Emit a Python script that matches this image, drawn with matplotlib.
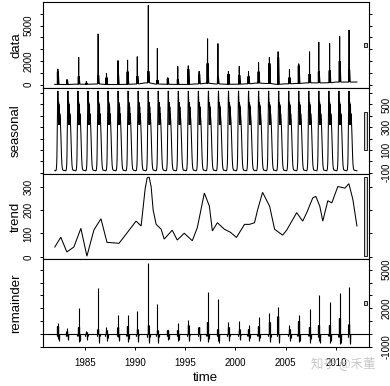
import numpy as np
import matplotlib
matplotlib.use("Agg")
import matplotlib.pyplot as plt
from matplotlib.patches import Rectangle

plt.rcParams['font.family'] = ['Liberation Sans', 'DejaVu Sans']

# ---------------- data ----------------
years = list(range(1982, 2012))
# position of the main spike within each year (fraction of year)
peak_frac = [0.30, 0.22, 0.38, 0.15, 0.32, 0.15, 0.30, 0.25, 0.22, 0.32,
             0.22, 0.25, 0.25, 0.30, 0.38, 0.22, 0.25, 0.30, 0.38, 0.30,
             0.30, 0.38, 0.25, 0.38, 0.30, 0.38, 0.30, 0.38, 0.38, 0.32]
data_peak = [1340, 450, 2330, 300, 4310, 950, 2050, 2100, 2380, 6740,
             3070, 600, 1550, 1610, 1140, 3900, 3490, 1140, 1550, 1140,
             1880, 2330, 2800, 1280, 1780, 2800, 3620, 3490, 4090, 4640]
data_shoulder = [1100, 350, 700, 150, 800, 600, 900, 1100, 730, 1140,
                 400, 500, 450, 1300, 900, 1800, 700, 900, 800, 700,
                 1100, 1800, 2300, 600, 1600, 900, 1100, 1200, 2000, 1300]
data_base = [20, 10, 40, 30, 60, 10, 10, 30, 60, 150,
             50, 30, 20, 20, 60, 120, 60, 30, 40, 70,
             130, 100, 30, 70, 100, 150, 150, 160, 220, 220]

# one year of the (periodic) seasonal component, weekly values
seasonal_week = [-82, -84, -85, -85, -85, -84, -82, -78,
                 -68, -50, -20, 40, 150, 300,
                 450, 570, 620,
                 560, 500, 470,
                 520, 320, 500, 320, 480, 330,
                 420, 400, 380, 350, 310, 260, 200, 140,
                 90, 40, 0, -30, -50, -62, -70, -75, -78, -80,
                 -80, -81, -81, -81, -81, -82, -82, -82]
season_start = 1982.0
n_weeks = 30 * 52 + 6

# trend component, read at irregular times
trend_time = [1982.0, 1982.6, 1983.2, 1983.9, 1984.6, 1985.2, 1985.9, 1986.6,
              1987.2, 1988.4, 1989.1, 1990.1, 1990.6, 1991.0, 1991.2, 1991.4,
              1991.6, 1991.8, 1992.1, 1992.6, 1992.9, 1993.7, 1994.2, 1994.9,
              1995.7, 1996.2, 1996.9, 1997.4, 1997.7, 1998.2, 1998.9, 1999.5,
              2000.1, 2000.9, 2001.4, 2001.9, 2002.2, 2002.7, 2003.4, 2003.9,
              2004.7, 2005.1, 2006.1, 2006.7, 2007.1, 2007.7, 2008.0, 2008.4,
              2008.7, 2009.2, 2009.6, 2010.2, 2010.9, 2011.3, 2011.7, 2012.1]
trend_val = [42, 84, 21, 42, 122, 3, 115, 163,
             62, 58, 97, 153, 132, 290, 338, 341,
             300, 200, 139, 118, 76, 114, 72, 101,
             69, 125, 273, 217, 111, 146, 118, 105,
             83, 139, 139, 146, 200, 276, 217, 118,
             93, 114, 189, 153, 189, 252, 259, 217,
             153, 240, 231, 301, 294, 313, 245, 132]

# remainder: main spike, positive cluster level, negative dip level per year
rem_peak = [840, 450, 2040, 200, 3580, 520, 1490, 1490, 1750, 5560,
            2350, 260, 840, 1100, 500, 3300, 2700, 900, 1000, 700,
            1300, 1600, 2090, 650, 1430, 1960, 3000, 2480, 3190, 3660]
rem_pos = [600, 250, 500, 150, 400, 300, 500, 600, 400, 700,
           300, 300, 300, 700, 500, 900, 400, 500, 400, 400,
           600, 900, 1400, 400, 1000, 500, 700, 700, 1200, 800]
rem_neg = [-550, -500, -650, -450, -700, -550, -600, -650, -650, -750,
           -700, -500, -550, -600, -550, -650, -700, -550, -500, -550,
           -600, -650, -700, -550, -650, -700, -750, -700, -800, -800]
dip_shape = [0.4, 0.8, 1.0, 0.85, 0.6, 0.35, 0.2]

# axis ticks and labels
x_ticks = [1985, 1990, 1995, 2000, 2005, 2010]
data_ticks = [0, 1000, 2000, 3000, 4000, 5000, 6000]
data_labels = [0, 2000, 5000]
seas_ticks = [-100, 0, 100, 200, 300, 400, 500, 600]
seas_labels = [-100, 100, 300, 500]
trend_ticks = [0, 100, 200, 300]
trend_labels = [0, 100, 200, 300]
rem_ticks = [-1000, 0, 1000, 2000, 3000, 4000, 5000]
rem_labels = [-1000, 2000, 5000]
panel_names = ["data", "seasonal", "trend", "remainder"]

# ---------------- build series ----------------
# data polyline
d_t, d_v = [], []
for y, pf, pk, sh, bs in zip(years, peak_frac, data_peak, data_shoulder, data_base):
    offs = [-0.12, -0.05, -0.04, -0.02, -0.01, 0.0, 0.01, 0.03, 0.05, 0.12]
    vals = [bs, bs, sh, bs, sh, pk, sh, bs, sh, bs]
    d_t.append(y)
    d_v.append(bs)
    for o, v in zip(offs, vals):
        d_t.append(y + pf + o)
        d_v.append(v)
d_t.append(2012.1)
d_v.append(data_base[-1])

# seasonal
s_t = season_start + np.arange(n_weeks) / 52.0
s_v = np.resize(np.array(seasonal_week, float), n_weeks)

# remainder vertical lines
r_t, r_v = [], []
for y, pf, pk, ps, ng in zip(years, peak_frac, rem_peak, rem_pos, rem_neg):
    r_t.append(y + pf); r_v.append(pk)
    for o in [-0.07, -0.05, -0.03, -0.015, 0.015, 0.03]:
        r_t.append(y + pf + o); r_v.append(ps)
    for k, w in enumerate(dip_shape):
        r_t.append(y + pf + 0.045 + 0.015 * k); r_v.append(ng * w)
    for o in [-0.12, -0.10]:
        r_t.append(y + pf + o); r_v.append(ng * 0.3)

series = [
    (np.array(d_t), np.array(d_v)),
    (s_t, s_v),
    (np.array(trend_time, float), np.array(trend_val, float)),
    (np.array(r_t), np.array(r_v)),
]
ticks = [data_ticks, seas_ticks, trend_ticks, rem_ticks]
labels = [data_labels, seas_labels, trend_labels, rem_labels]

# ---------------- figure ----------------
W, H = 390, 386
fig = plt.figure(figsize=(W / 100, H / 100), dpi=100)
left_px, right_px = 42.7, 369.0
edges = [2.0, 87.7, 174.0, 259.3, 347.3]

t0, t1 = 1982.0, 2012.1
xpad = 0.04 * (t1 - t0)
xlim = (t0 - xpad, t1 + xpad)

ranges = []
for t, v in series:
    ranges.append((v.min(), v.max()))
mx = min(hi - lo for lo, hi in ranges)

for i in range(4):
    y_top, y_bot = edges[i], edges[i + 1]
    ax = fig.add_axes([left_px / W, 1 - y_bot / H, (right_px - left_px) / W, (y_bot - y_top) / H])
    t, v = series[i]
    lo, hi = ranges[i]
    pad = 0.04 * (hi - lo)
    ax.set_xlim(*xlim)
    ax.set_ylim(lo - pad, hi + pad)
    if i < 3:
        ax.plot(t, v, color="black", lw=0.75, solid_joinstyle="miter")
    else:
        ax.vlines(t, 0, v, color="black", lw=0.8)
        ax.axhline(0, color="black", lw=0.8)
    # range bar
    dx = (xlim[1] - xlim[0]) / 64
    ymid = (lo + hi) / 2
    ax.add_patch(Rectangle((xlim[1] - dx, ymid - mx / 2), 0.6 * dx, mx,
                           facecolor="#d3d3d3", edgecolor="black", lw=0.6,
                           clip_on=False, zorder=3))
    for s in ax.spines.values():
        s.set_linewidth(0.8)
    right = (i % 2 == 1)
    ax.set_yticks(ticks[i])
    ax.set_yticklabels([str(v_) if v_ in labels[i] else "" for v_ in ticks[i]])
    ax.tick_params(axis="y", left=True, right=True, labelleft=not right,
                   labelright=right, direction="out", length=2.5, width=0.7,
                   labelsize=7, labelrotation=90)
    ax.yaxis.set_tick_params(pad=4.2 if not right else 6.5)
    for tk in ax.yaxis.get_major_ticks():
        tk.label1.set_va("center")
        tk.label2.set_va("center")
    ax.set_xticks(x_ticks)
    ax.tick_params(axis="x", bottom=True, top=False, labelbottom=(i == 3),
                   direction="out", length=2.5, width=0.7, labelsize=7, pad=5.0)
    fig.text(16 / W, 1 - (y_top + y_bot) / 2 / H, panel_names[i], rotation=90,
             ha="center", va="center", fontsize=9.5)

fig.text(205.5 / W, 1 - 378 / H, "time", ha="center", va="center", fontsize=9.5)
fig.text(343 / W, 1 - 363 / H, "知乎 @禾董", ha="center", va="center", fontsize=9,
         color="#bbbbbb", alpha=0.8, family=["Noto Sans CJK SC", "DejaVu Sans"])

fig.savefig("out.png", dpi=100)
